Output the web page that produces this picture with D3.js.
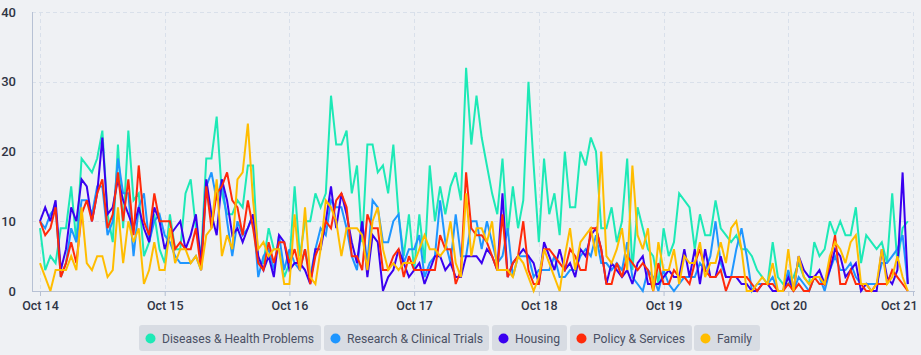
<!DOCTYPE html>
<html>
<head>
<meta charset="utf-8">
<script src="https://cdn.jsdelivr.net/npm/d3@7"></script>
<style>
  html, body { margin: 0; padding: 0; background: #eff1f4; }
  svg { display: block; font-family: Roboto, "Noto Sans", sans-serif; }
</style>
</head>
<body>
<svg id="chart" width="921" height="355"></svg>
<script>
// ---- data (hourly counts, Oct 14 00:00 .. Oct 20 23:00) ----
const startDate = "2023-10-14T00:00:00";
const dayTicks = ["Oct 14","Oct 15","Oct 16","Oct 17","Oct 18","Oct 19","Oct 20","Oct 21"];
const yTicks = [0, 10, 20, 30, 40];
const seriesNames = ["Diseases & Health Problems","Research & Clinical Trials","Housing","Policy & Services","Family"];
const seriesColors = ["#1de9b6","#1e96ff","#3a00f0","#ff2a0a","#ffbd00"];

const diseases = [
  9,3,5,4,9,9,15,7,19,18,17,19,
  23,11,7,21,9,23,13,14,5,7,11,6,
  4,11,6,6,14,16,9,5,19,19,25,14,
  11,11,13,12,18,18,4,4,9,6,6,2,
  4,15,5,10,10,14,12,14,28,21,21,23,
  14,18,7,21,21,17,18,14,21,11,5,11,
  3,11,4,18,10,15,11,15,17,13,32,21,
  28,22,18,14,11,19,8,15,9,13,30,18,
  7,19,11,14,8,20,12,12,20,18,22,20,
  9,9,12,7,10,19,3,12,9,6,5,1,
  9,5,7,14,13,12,6,11,8,8,13,9,
  8,7,8,6,6,5,3,2,1,7,2,1,
  1,2,4,2,1,7,5,6,10,8,10,8,
  8,12,4,8,7,6,7,4,14,4,9,10
];
const research = [
  10,9,11,12,2,4,9,7,13,13,11,15,
  15,8,10,19,14,14,5,12,14,7,10,11,
  8,7,5,4,4,4,5,3,15,17,13,16,
  10,5,10,8,9,11,2,5,6,3,8,3,
  6,4,3,6,2,6,9,8,13,12,12,9,
  5,3,10,4,13,12,7,7,10,11,4,6,
  6,8,2,4,5,13,7,4,11,5,5,10,
  10,6,10,7,4,5,9,2,5,5,5,2,
  3,3,3,5,2,2,3,3,5,6,5,8,
  4,4,3,4,3,7,2,1,0,3,2,0,
  3,1,0,1,2,2,2,4,3,5,10,4,
  2,2,6,9,5,0,1,1,1,2,0,0,
  3,0,2,1,0,2,2,0,3,5,3,3,
  4,2,1,1,1,1,4,4,5,6,8,1
];
const housing = [
  10,12,10,13,3,6,12,10,16,15,10,14,
  22,11,12,16,13,11,9,12,9,7,12,10,
  6,8,9,10,6,8,11,4,16,11,8,16,
  13,8,9,7,9,11,5,3,5,2,8,7,
  3,4,4,3,1,6,6,10,15,9,14,11,
  7,4,10,2,8,7,0,2,3,6,4,2,
  3,4,1,3,5,5,3,4,2,2,5,5,
  5,4,6,5,3,14,2,4,5,6,5,4,
  1,7,5,3,6,3,4,2,6,5,8,9,
  6,1,4,3,2,3,1,4,5,1,1,1,
  2,3,2,2,6,2,6,1,6,2,2,5,
  2,2,2,1,1,0,0,1,1,0,0,0,
  2,0,5,3,2,2,3,1,3,6,5,2,
  3,4,0,1,0,0,6,2,1,3,17,1
];
const policy = [
  10,8,9,12,2,4,7,4,11,13,10,14,
  16,9,11,17,10,16,8,18,10,8,14,10,
  10,10,6,7,6,6,9,3,15,9,14,15,
  17,13,12,8,13,9,4,3,7,4,7,7,
  4,6,3,6,1,5,7,10,9,13,14,12,
  5,5,3,11,9,9,3,3,5,6,2,5,
  3,3,3,3,3,8,6,6,1,3,17,9,
  8,8,7,5,3,11,2,4,5,10,3,1,
  1,6,6,5,4,3,6,5,3,3,9,9,
  6,1,1,4,2,5,4,3,4,3,0,4,
  1,1,3,2,2,1,4,6,3,2,2,3,
  0,2,2,2,2,1,0,1,1,1,0,0,
  1,0,1,0,0,2,1,1,4,8,1,1,
  3,1,1,0,0,1,1,1,3,2,1,0
];
const family = [
  4,2,0,3,3,3,5,3,12,4,3,5,
  5,2,3,12,4,10,7,9,1,3,7,3,
  3,9,4,6,6,4,5,3,8,9,16,5,
  8,6,16,17,24,13,6,7,5,6,6,1,
  1,11,3,12,2,1,6,13,12,10,5,9,
  9,9,8,3,10,12,6,3,4,3,4,4,
  4,6,8,6,6,5,6,10,4,2,14,5,
  9,9,7,10,3,3,3,2,5,4,2,0,
  2,6,4,2,0,5,9,3,7,8,9,5,
  20,5,4,6,9,3,18,8,6,9,0,7,
  3,3,6,1,5,4,4,7,2,4,4,7,
  4,9,10,6,0,0,1,2,1,4,0,0,
  6,0,5,2,1,2,2,1,5,7,6,4,
  7,8,1,1,0,1,6,1,2,5,2,0
];
const seriesValues = [diseases, research, housing, policy, family];

// ---- layout ----
const svg = d3.select("#chart");
const plotLeft = 32, plotRight = 914, plotTop = 12, plotBottom = 291;
const t0 = new Date(startDate);
const hour = 3600 * 1000;
const tEnd = new Date(t0.getTime() + 7 * 24 * hour);

const x = d3.scaleTime().domain([t0, tEnd]).range([40, 913]);
const y = d3.scaleLinear().domain([0, 40]).range([plotBottom, plotTop]);

const tickDates = dayTicks.map((d, i) => new Date(t0.getTime() + i * 24 * hour));

// grid
const grid = svg.append("g");
grid.selectAll("line.h").data(yTicks.filter(v => v > 0)).join("line")
  .attr("x1", plotLeft).attr("x2", plotRight)
  .attr("y1", d => Math.round(y(d)) + 0.5).attr("y2", d => Math.round(y(d)) + 0.5)
  .attr("stroke", "#d9e0ea").attr("stroke-width", 1).attr("stroke-dasharray", "4,3");
grid.selectAll("line.v").data(tickDates).join("line")
  .attr("x1", d => Math.round(x(d)) + 0.5).attr("x2", d => Math.round(x(d)) + 0.5)
  .attr("y1", plotTop).attr("y2", plotBottom)
  .attr("stroke", "#d9e0ea").attr("stroke-width", 1).attr("stroke-dasharray", "4,3");

// axes
const yAxis = d3.axisLeft(y).tickValues(yTicks).tickSize(0).tickPadding(0);
const gy = svg.append("g").attr("transform", `translate(16,0)`).call(yAxis);
gy.select(".domain").remove();
gy.selectAll("text").attr("font-size", 13).attr("font-weight", 500)
  .attr("fill", "#2f3545").attr("font-family", "Roboto, sans-serif");

svg.append("line").attr("x1", plotLeft + 0.5).attr("x2", plotLeft + 0.5)
  .attr("y1", plotTop).attr("y2", plotBottom)
  .attr("stroke", "#b7c1d4").attr("stroke-width", 1);

const xAxis = d3.axisBottom(x).tickValues(tickDates)
  .tickFormat((d, i) => dayTicks[i]).tickSize(5).tickPadding(5).tickSizeOuter(0);
const gx = svg.append("g").attr("transform", `translate(0,${plotBottom})`).call(xAxis);
gx.select(".domain").remove();
gx.selectAll("line").attr("stroke", "#b7c1d4");
gx.selectAll("text").attr("font-size", 12.5).attr("font-weight", 500)
  .attr("fill", "#2f3545").attr("font-family", "Roboto, sans-serif");
gx.selectAll(".tick").filter((d, i) => i === dayTicks.length - 1).select("text")
  .attr("text-anchor", "end").attr("x", 4);
svg.append("line").attr("x1", plotLeft).attr("x2", plotRight + 1)
  .attr("y1", plotBottom + 0.5).attr("y2", plotBottom + 0.5)
  .attr("stroke", "#b7c1d4").attr("stroke-width", 1);

// lines
const line = d3.line()
  .x((d, i) => x(new Date(t0.getTime() + i * hour)))
  .y(d => y(d));
svg.append("g").selectAll("path").data(seriesValues).join("path")
  .attr("d", d => line(d))
  .attr("fill", "none")
  .attr("stroke", (d, i) => seriesColors[i])
  .attr("stroke-width", 2)
  .attr("stroke-linejoin", "miter")
  .attr("stroke-miterlimit", 3);

// legend chips
const chipX = [139, 324, 492, 570, 694];
const chipW = [182, 165, 75, 122, 66];
const textW = [152, 136, 45, 92, 35];
const legend = svg.append("g");
seriesNames.forEach((name, i) => {
  const g = legend.append("g").attr("transform", `translate(${chipX[i]},325)`);
  g.append("rect").attr("width", chipW[i]).attr("height", 26).attr("rx", 3)
    .attr("fill", "#d8dce3");
  g.append("circle").attr("cx", 11.5).attr("cy", 13.5).attr("r", 5)
    .attr("fill", seriesColors[i]);
  g.append("text").attr("x", 23).attr("y", 18)
    .attr("font-size", 13).attr("fill", "#4a5064")
    .attr("font-family", "Roboto, sans-serif")
    .attr("textLength", textW[i]).attr("lengthAdjust", "spacingAndGlyphs")
    .text(name);
});
</script>
</body>
</html>
